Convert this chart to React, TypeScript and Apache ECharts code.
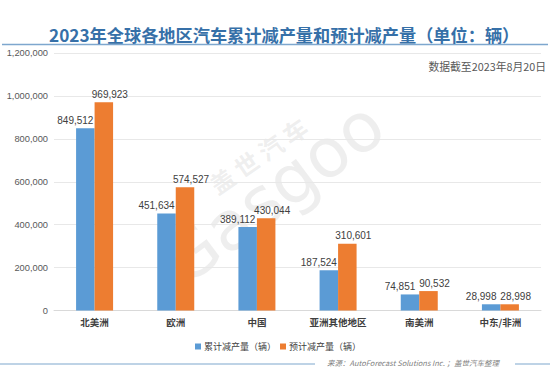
import React, { useEffect, useRef } from "react";
import * as echarts from "echarts";

const categories = ["北美洲", "欧洲", "中国", "亚洲其他地区", "南美洲", "中东/非洲"];
const cumulative = [849512, 451634, 389112, 187524, 74851, 28998];
const forecast = [969923, 574527, 430044, 310601, 90532, 28998];
const seriesNames = ["累计减产量（辆）", "预计减产量（辆）"];
const titleText = "2023年全球各地区汽车累计减产量和预计减产量（单位：辆）";
const dateNote = "数据截至2023年8月20日";
const sourceNote = "来源：AutoForecast Solutions Inc. ；盖世汽车整理";

const FONT = '"Noto Sans CJK SC", "Noto Sans", sans-serif';
const NUMFONT = '"Liberation Sans", Arial, "Noto Sans CJK SC", sans-serif';

export default function App() {
  const ref = useRef<HTMLDivElement>(null);
  useEffect(() => {
    if (!ref.current) return;
    const chart = echarts.init(ref.current, undefined, { renderer: "svg" });
    const fmt = (v: number) => v.toLocaleString("en-US");
    chart.setOption({
      animation: false,
      backgroundColor: "#ffffff",
      textStyle: { fontFamily: FONT },
      title: {
        text: titleText,
        left: 49,
        top: 26,
        padding: 0,
        textStyle: { fontSize: 17.2, fontWeight: "bold", color: "#3670A8", fontFamily: FONT },
      },
      legend: {
        top: 337,
        left: 190,
        itemWidth: 6,
        itemHeight: 6,
        itemGap: 4,
        icon: "rect",
        textStyle: { fontSize: 9, color: "#404040", fontFamily: FONT, padding: [0, 0, 0, -2] },
        data: seriesNames,
      },
      grid: { left: 54, right: 9, top: 53, bottom: 67.5, containLabel: false },
      xAxis: {
        type: "category",
        data: categories,
        axisLine: { lineStyle: { color: "#d9d9d9" } },
        axisTick: { show: false },
        axisLabel: { interval: 0, fontSize: 9.5, color: "#404040", fontWeight: "bold", margin: 7, fontFamily: FONT },
      },
      yAxis: {
        type: "value",
        min: 0,
        max: 1200000,
        interval: 200000,
        axisLabel: { fontSize: 9.3, color: "#595959", margin: 6, formatter: (v: number) => fmt(v), fontFamily: NUMFONT },
        splitLine: { lineStyle: { color: "#e8e8e8" } },
        axisLine: { show: false },
        axisTick: { show: false },
      },
      graphic: [
        {
          type: "text",
          x: 150,
          y: 242,
          rotation: 0.64,
          z: -1,
          silent: true,
          style: { text: "Gasgoo", fontSize: 68, fontFamily: "DejaVu Sans, sans-serif", fill: "rgba(200,200,200,0.3)" },
        },
        {
          type: "text",
          x: 205,
          y: 177,
          rotation: 0.6,
          z: -1,
          silent: true,
          style: { text: "盖 世 汽 车", fontSize: 24, fontWeight: "bold", fontFamily: FONT, fill: "rgba(200,200,200,0.3)" },
        },
        {
          type: "line",
          shape: { x1: 2, y1: 44.5, x2: 548, y2: 44.5 },
          style: { stroke: "#7EA7CE", lineWidth: 1.5 },
        },
        {
          type: "text",
          right: 4,
          top: 61,
          style: { text: dateNote, fontSize: 10.8, fill: "#595959", fontFamily: FONT },
        },
        {
          type: "line",
          shape: { x1: 0, y1: 364, x2: 315, y2: 364 },
          style: { stroke: "#7EA7CE", lineWidth: 1.2 },
        },
        {
          type: "line",
          shape: { x1: 515, y1: 364, x2: 550, y2: 364 },
          style: { stroke: "#7EA7CE", lineWidth: 1.2 },
        },
        {
          type: "text",
          x: 327,
          y: 359,
          style: { text: sourceNote, fontSize: 7.5, fontStyle: "italic", fill: "#7f7f7f", fontFamily: FONT },
        },
      ],
      series: [
        {
          name: seriesNames[0],
          type: "bar",
          data: cumulative,
          barWidth: 18.5,
          barGap: "0%",
          itemStyle: { color: "#5B9BD5" },
          label: { show: true, position: "top", distance: 3, fontSize: 10, color: "#404040", fontFamily: NUMFONT, formatter: (p: any) => fmt(p.value), offset: [-10, 0] },
        },
        {
          name: seriesNames[1],
          type: "bar",
          data: forecast,
          barWidth: 18.5,
          itemStyle: { color: "#ED7D31" },
          label: { show: true, position: "top", distance: 3, fontSize: 10, color: "#404040", fontFamily: NUMFONT, formatter: (p: any) => fmt(p.value), offset: [6, 0] },
        },
      ],
    });
    return () => chart.dispose();
  }, []);
  return <div ref={ref} style={{ width: 550, height: 378, position: "absolute", left: 0, top: 0 }} />;
}
